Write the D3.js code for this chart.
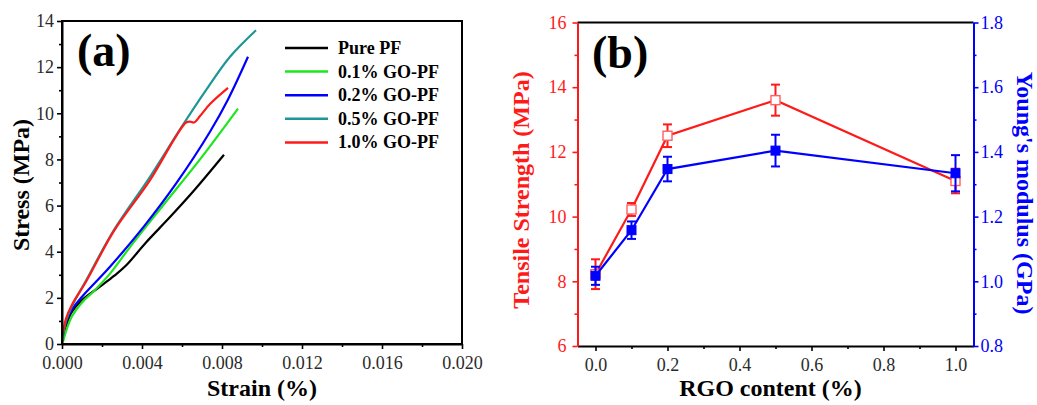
<!DOCTYPE html>
<html>
<head>
<meta charset="utf-8">
<script src="https://cdn.jsdelivr.net/npm/d3@7"></script>
<style>
  body { margin: 0; background: #fff; }
</style>
</head>
<body>
<script>
var w = 1037;
var h = 405;

// panel (a): stress-strain curves, [strain, stress]
var seriesNames = ["Pure PF", "0.1% GO-PF", "0.2% GO-PF", "0.5% GO-PF", "1.0% GO-PF"];
var seriesColors = ["#000000", "#1ee61e", "#0000ff", "#1f9696", "#ff1a1a"];

var purePF = [[0.00005, 0.3], [0.0002, 0.8], [0.0005, 1.4], [0.001, 1.9], [0.002, 2.55],
              [0.0026, 2.95], [0.0032, 3.4], [0.0042, 4.4], [0.0054, 5.5], [0.0066, 6.65], [0.0081, 8.2]];
var go01 = [[0.00005, 0.1], [0.0002, 0.55], [0.0005, 1.2], [0.001, 1.8], [0.0016, 2.3],
            [0.0024, 3.05], [0.0034, 4.2], [0.005, 5.95], [0.0069, 8.0], [0.0088, 10.2]];
var go02 = [[0.00005, 0.4], [0.0002, 0.95], [0.0005, 1.5], [0.001, 2.05], [0.0024, 3.35],
            [0.0041, 5.1], [0.0057, 6.95], [0.0074, 9.2], [0.0083, 10.6], [0.0093, 12.45]];
var go05 = [[0.00005, 0.3], [0.0002, 1.0], [0.0005, 1.65], [0.0012, 2.75], [0.0026, 4.95],
            [0.0044, 7.25], [0.0059, 9.3], [0.0072, 11.0], [0.0084, 12.45], [0.0097, 13.6]];
var go10 = [[0.00005, 0.45], [0.0002, 1.1], [0.0005, 1.7], [0.0012, 2.7], [0.0026, 4.9],
            [0.0044, 7.1], [0.0057, 9.0], [0.0062, 9.6], [0.0064, 9.64], [0.0066, 9.6],
            [0.0069, 9.88], [0.0074, 10.4], [0.0083, 11.1]];
var curves = [purePF, go01, go02, go05, go10];

var strainTicks = [0, 0.004, 0.008, 0.012, 0.016, 0.020];
var strainMinor = [0.002, 0.006, 0.010, 0.014, 0.018];
var stressTicks = [0, 2, 4, 6, 8, 10, 12, 14];
var stressMinor = [1, 3, 5, 7, 9, 11, 13];

// panel (b): strength and modulus vs RGO content
var rgoContent = [0, 0.1, 0.2, 0.5, 1.0];
var tensile = [8.22, 10.22, 12.5, 13.6, 11.1];
var tensileErr = [0.46, 0.2, 0.35, 0.48, 0.38];
var modulus = [1.017, 1.158, 1.347, 1.404, 1.334];
var modulusErr = [0.028, 0.027, 0.038, 0.049, 0.056];

var rgoTicks = [0, 0.2, 0.4, 0.6, 0.8, 1.0];
var rgoMinor = [0.1, 0.3, 0.5, 0.7, 0.9];
var tensileTicks = [6, 8, 10, 12, 14, 16];
var tensileMinor = [7, 9, 11, 13, 15];
var modulusTicks = [0.8, 1.0, 1.2, 1.4, 1.6, 1.8];
var modulusMinor = [0.9, 1.1, 1.3, 1.5, 1.7];

var serif = "'Liberation Serif', 'Times New Roman', serif";

var svg = d3.select("body").append("svg")
    .attr("width", w)
    .attr("height", h)
    .style("font-family", serif);

svg.append("rect").attr("width", w).attr("height", h).attr("fill", "#fff");

function styleAxis(g, color, fontSize) {
    g.attr("font-family", null);
    g.select(".domain").attr("stroke", color).attr("stroke-width", 2);
    g.selectAll(".tick line").attr("stroke", color).attr("stroke-width", 1.6);
    g.selectAll(".tick text")
        .attr("fill", color === "#000" ? "#2a2a2a" : color)
        .style("font-family", serif)
        .style("font-size", fontSize + "px");
}
function minorAxis(g, color) {
    g.select(".domain").remove();
    g.selectAll(".tick line").attr("stroke", color).attr("stroke-width", 1.6);
}
function label(x, y, str, size) {
    return svg.append("text")
        .attr("x", x).attr("y", y)
        .style("font-family", serif)
        .style("font-size", size + "px")
        .style("font-weight", "bold")
        .text(str);
}

// ---------- panel (a) ----------
var a = { left: 62, right: 462, top: 21, bottom: 344 };
var xA = d3.scaleLinear().domain([0, 0.020]).range([a.left, a.right]);
var yA = d3.scaleLinear().domain([0, 14]).range([a.bottom, a.top]);

var line = d3.line()
    .x(function(d) { return xA(d[0]); })
    .y(function(d) { return yA(d[1]); })
    .curve(d3.curveCatmullRom.alpha(0.5));

svg.selectAll("path.curve")
    .data(curves)
    .enter()
    .append("path")
    .attr("class", "curve")
    .attr("d", line)
    .attr("fill", "none")
    .attr("stroke", function(d, i) { return seriesColors[i]; })
    .attr("stroke-width", 2.2)
    .attr("stroke-linejoin", "round");

svg.append("rect")
    .attr("x", a.left).attr("y", a.top)
    .attr("width", a.right - a.left).attr("height", a.bottom - a.top)
    .attr("fill", "none").attr("stroke", "#000").attr("stroke-width", 2);

var gxA = svg.append("g")
    .attr("transform", "translate(0," + a.bottom + ")")
    .call(d3.axisBottom(xA).tickValues(strainTicks).tickFormat(d3.format(".3f"))
          .tickSize(5).tickPadding(7).tickSizeOuter(0));
styleAxis(gxA, "#000", 18);
svg.append("g")
    .attr("transform", "translate(0," + a.bottom + ")")
    .call(d3.axisBottom(xA).tickValues(strainMinor).tickFormat("").tickSize(3))
    .call(minorAxis, "#000");

var gyA = svg.append("g")
    .attr("transform", "translate(" + a.left + ",0)")
    .call(d3.axisLeft(yA).tickValues(stressTicks).tickFormat(d3.format("d"))
          .tickSize(5).tickPadding(3).tickSizeOuter(0));
styleAxis(gyA, "#000", 18);
svg.append("g")
    .attr("transform", "translate(" + a.left + ",0)")
    .call(d3.axisLeft(yA).tickValues(stressMinor).tickFormat("").tickSize(3))
    .call(minorAxis, "#000");

label((a.left + a.right) / 2, 396, "Strain (%)", 24).attr("text-anchor", "middle");
label(0, 0, "Stress (MPa)", 24)
    .attr("transform", "translate(29,185) rotate(-90)")
    .attr("text-anchor", "middle");
label(77, 66, "(a)", 46);

var legend = svg.append("g").attr("transform", "translate(285,48)");
var rows = legend.selectAll("g")
    .data(seriesNames)
    .enter()
    .append("g")
    .attr("transform", function(d, i) { return "translate(0," + (i * 23.6) + ")"; });
rows.append("line")
    .attr("x1", 0).attr("x2", 43)
    .attr("stroke", function(d, i) { return seriesColors[i]; })
    .attr("stroke-width", 2.5);
rows.append("text")
    .attr("x", 53).attr("y", 6)
    .style("font-family", serif)
    .style("font-size", "18px").style("font-weight", "bold")
    .text(function(d) { return d; });

// ---------- panel (b) ----------
var b = { left: 577.5, right: 973.5, top: 22.5, bottom: 346 };
var red = "#ff1a1a";
var blue = "#0000ff";
var xB = d3.scaleLinear().domain([-0.05, 1.05]).range([b.left, b.right]);
var yL = d3.scaleLinear().domain([6, 16]).range([b.bottom, b.top]);
var yR = d3.scaleLinear().domain([0.8, 1.8]).range([b.bottom, b.top]);

svg.append("line")
    .attr("x1", b.left).attr("x2", b.right)
    .attr("y1", b.top).attr("y2", b.top)
    .attr("stroke", "#000").attr("stroke-width", 2);

var gxB = svg.append("g")
    .attr("transform", "translate(0," + b.bottom + ")")
    .call(d3.axisBottom(xB).tickValues(rgoTicks).tickFormat(d3.format(".1f"))
          .tickSize(5).tickPadding(7).tickSizeOuter(0));
styleAxis(gxB, "#000", 18);
svg.append("g")
    .attr("transform", "translate(0," + b.bottom + ")")
    .call(d3.axisBottom(xB).tickValues(rgoMinor).tickFormat("").tickSize(3))
    .call(minorAxis, "#000");

var gyL = svg.append("g")
    .attr("transform", "translate(" + b.left + ",0)")
    .call(d3.axisLeft(yL).tickValues(tensileTicks).tickFormat(d3.format("d"))
          .tickSize(5).tickPadding(6).tickSizeOuter(0));
styleAxis(gyL, red, 18);
svg.append("g")
    .attr("transform", "translate(" + b.left + ",0)")
    .call(d3.axisLeft(yL).tickValues(tensileMinor).tickFormat("").tickSize(3))
    .call(minorAxis, red);

var gyR = svg.append("g")
    .attr("transform", "translate(" + b.right + ",0)")
    .call(d3.axisRight(yR).tickValues(modulusTicks).tickFormat(d3.format(".1f"))
          .tickSize(5).tickPadding(2).tickSizeOuter(0));
styleAxis(gyR, blue, 18);
svg.append("g")
    .attr("transform", "translate(" + b.right + ",0)")
    .call(d3.axisRight(yR).tickValues(modulusMinor).tickFormat("").tickSize(3))
    .call(minorAxis, blue);

function drawSeries(vals, errs, yScale, color, filled) {
    var pts = rgoContent.map(function(x, i) { return [x, vals[i], errs[i]]; });
    svg.append("path")
        .datum(pts)
        .attr("d", d3.line()
            .x(function(d) { return xB(d[0]); })
            .y(function(d) { return yScale(d[1]); }))
        .attr("fill", "none")
        .attr("stroke", color)
        .attr("stroke-width", 2.2);
    var eb = svg.append("g").selectAll("g")
        .data(pts)
        .enter()
        .append("g")
        .attr("stroke", color)
        .attr("stroke-width", 2);
    eb.append("line")
        .attr("x1", function(d) { return xB(d[0]); })
        .attr("x2", function(d) { return xB(d[0]); })
        .attr("y1", function(d) { return yScale(d[1] - d[2]); })
        .attr("y2", function(d) { return yScale(d[1] + d[2]); });
    eb.append("line")
        .attr("x1", function(d) { return xB(d[0]) - 4.5; })
        .attr("x2", function(d) { return xB(d[0]) + 4.5; })
        .attr("y1", function(d) { return yScale(d[1] + d[2]); })
        .attr("y2", function(d) { return yScale(d[1] + d[2]); });
    eb.append("line")
        .attr("x1", function(d) { return xB(d[0]) - 4.5; })
        .attr("x2", function(d) { return xB(d[0]) + 4.5; })
        .attr("y1", function(d) { return yScale(d[1] - d[2]); })
        .attr("y2", function(d) { return yScale(d[1] - d[2]); });
    svg.append("g").selectAll("rect")
        .data(pts)
        .enter()
        .append("rect")
        .attr("x", function(d) { return xB(d[0]) - 4.5; })
        .attr("y", function(d) { return yScale(d[1]) - 4.5; })
        .attr("width", 9)
        .attr("height", 9)
        .attr("fill", filled ? color : "#fff")
        .attr("stroke", filled ? color : "#ff6060")
        .attr("stroke-width", filled ? 1 : 1.4);
}

drawSeries(tensile, tensileErr, yL, red, false);
drawSeries(modulus, modulusErr, yR, blue, true);

label((b.left + b.right) / 2 - 5, 396, "RGO content (%)", 24).attr("text-anchor", "middle");
label(0, 0, "Tensile Strength (MPa)", 24)
    .attr("transform", "translate(529,190) rotate(-90)")
    .attr("text-anchor", "middle")
    .attr("fill", red);
label(0, 0, "Young's modulus (GPa)", 24)
    .attr("transform", "translate(1017,193) rotate(90)")
    .attr("text-anchor", "middle")
    .attr("fill", blue);
label(592, 68, "(b)", 46);
</script>
</body>
</html>
